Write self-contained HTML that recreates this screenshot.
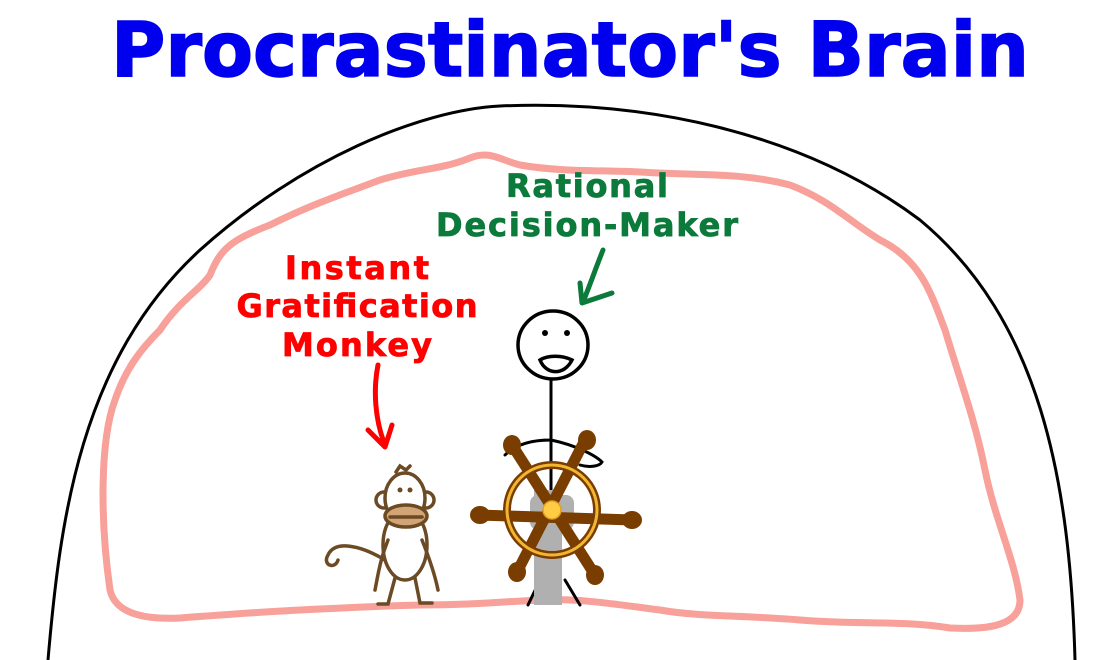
<!DOCTYPE html>
<html><head><meta charset="utf-8"><style>
html,body{margin:0;padding:0;background:#fff}
svg{display:block}
text{font-family:"DejaVu Sans","Liberation Sans",sans-serif;font-weight:bold}
</style></head><body>
<svg width="1100" height="660" viewBox="0 0 1100 660" xmlns="http://www.w3.org/2000/svg">
<text x="570" y="76" font-size="76" fill="#0000ee" stroke="#0000ee" stroke-width="1.5" text-anchor="middle" textLength="918" lengthAdjust="spacingAndGlyphs">Procrastinator's Brain</text>
<!-- skull -->
<path d="M48 660 C60 520 80 360 200 250 C300 160 420 110 500 106 C640 100 800 130 920 220 C1040 320 1070 480 1075 660" fill="none" stroke="#000" stroke-width="3"/>
<!-- brain -->
<path d="M110 590 C100 520 100 440 115 400 C125 370 140 350 160 330 C180 300 200 290 210 275 C220 250 230 240 270 225 C310 205 340 195 380 180 C420 168 440 170 470 158 C490 150 500 160 520 165 C560 172 600 170 640 172 C700 176 740 172 790 185 C830 200 850 222 880 240 C920 260 930 290 945 330 C960 380 975 420 985 470 C995 520 1015 560 1020 600 C1020 625 990 630 950 628 C900 620 860 625 800 620 C740 615 700 617 660 610 C620 605 580 598 540 600 C500 602 470 605 420 605 C380 606 340 608 300 610 C260 612 220 615 180 618 C140 620 115 612 110 590 Z" fill="none" stroke="#f8a09a" stroke-width="7" stroke-linejoin="round"/>
<!-- labels -->
<g fill="#ff0000" stroke="#ff0000" stroke-width="0.8" font-size="32" text-anchor="middle" lengthAdjust="spacingAndGlyphs">
<text x="357" y="279" textLength="144">Instant</text>
<text x="357" y="317" textLength="241">Gratification</text>
<text x="357" y="356" textLength="150">Monkey</text>
</g>
<g fill="#0b7a3a" stroke="#0b7a3a" stroke-width="0.8" font-size="32" text-anchor="middle" lengthAdjust="spacingAndGlyphs">
<text x="587" y="197" textLength="162">Rational</text>
<text x="587" y="236" textLength="302">Decision-Maker</text>
</g>
<!-- arrows -->
<path d="M378 365 C373 390 375 420 385 445 M368 430 L385 447 L392 425" fill="none" stroke="#ff0000" stroke-width="5" stroke-linecap="round" stroke-linejoin="round"/>
<path d="M603 250 C595 270 590 285 583 302 M580 283 L582 303 L612 293" fill="none" stroke="#0b7a3a" stroke-width="5" stroke-linecap="round" stroke-linejoin="round"/>
<!-- stick figure -->
<ellipse cx="553" cy="345" rx="35" ry="34" fill="#fff" stroke="#000" stroke-width="3.5"/>
<circle cx="545" cy="333" r="3"/><circle cx="567" cy="333" r="3"/>
<path d="M540 360 C546 375 564 376 572 360 C562 355 548 355 540 360 Z" fill="none" stroke="#000" stroke-width="3.5"/>
<path d="M551 380 L551 500 M551 440 C530 440 515 445 505 455 M551 440 C575 445 595 455 602 462 C600 466 590 468 580 465 M540 580 L528 605 M565 580 L580 605" fill="none" stroke="#000" stroke-width="3" stroke-linecap="round"/>
<!-- wheel -->
<path d="M548 490 L548 605" stroke="#b0b0b0" stroke-width="28"/>
<rect x="530" y="495" width="44" height="35" rx="8" fill="#b0b0b0"/>
<g stroke="#7a3d00" stroke-width="11" stroke-linecap="round">
<line x1="512" y1="445" x2="595" y2="575"/>
<line x1="585" y1="440" x2="517" y2="572"/>
<line x1="478" y1="515" x2="633" y2="520"/>
</g>
<g fill="#7a3d00">
<ellipse cx="480" cy="515" rx="10" ry="9"/><ellipse cx="632" cy="520" rx="10" ry="9"/>
<ellipse cx="512" cy="445" rx="9" ry="10"/><ellipse cx="587" cy="440" rx="9" ry="10"/>
<ellipse cx="517" cy="572" rx="9" ry="10"/><ellipse cx="595" cy="575" rx="9" ry="10"/>
</g>
<circle cx="552" cy="510" r="45" fill="none" stroke="#7a3d00" stroke-width="8"/>
<circle cx="552" cy="510" r="45" fill="none" stroke="#f2b632" stroke-width="3"/>
<circle cx="552" cy="510" r="9" fill="#ffcc44" stroke="#e0a020" stroke-width="1.5"/>
<!-- monkey -->
<g fill="none" stroke="#6b4a24" stroke-width="3.5" stroke-linecap="round">
<path d="M385 560 C360 545 335 540 328 555 C322 565 335 570 338 560"/>
<ellipse cx="405" cy="545" rx="22" ry="35" fill="#fff"/>
<path d="M388 540 C380 560 378 575 375 590 M422 540 C430 560 435 575 438 590"/>
<path d="M395 578 L388 604 L378 604 M415 578 L420 603 L432 603"/>
<circle cx="384" cy="500" r="8" fill="#fff"/><circle cx="426" cy="500" r="8" fill="#fff"/>
<ellipse cx="405" cy="498" rx="20" ry="25" fill="#fff"/>
<path d="M396 472 L400 466 L406 470 L410 466"/>
<ellipse cx="406" cy="516" rx="21" ry="11" fill="#d2a577"/>
<path d="M390 517 L422 517"/>
</g>
<circle cx="400" cy="490" r="2.5" fill="#6b4a24"/><circle cx="410" cy="490" r="2.5" fill="#6b4a24"/>
</svg>
</body></html>
